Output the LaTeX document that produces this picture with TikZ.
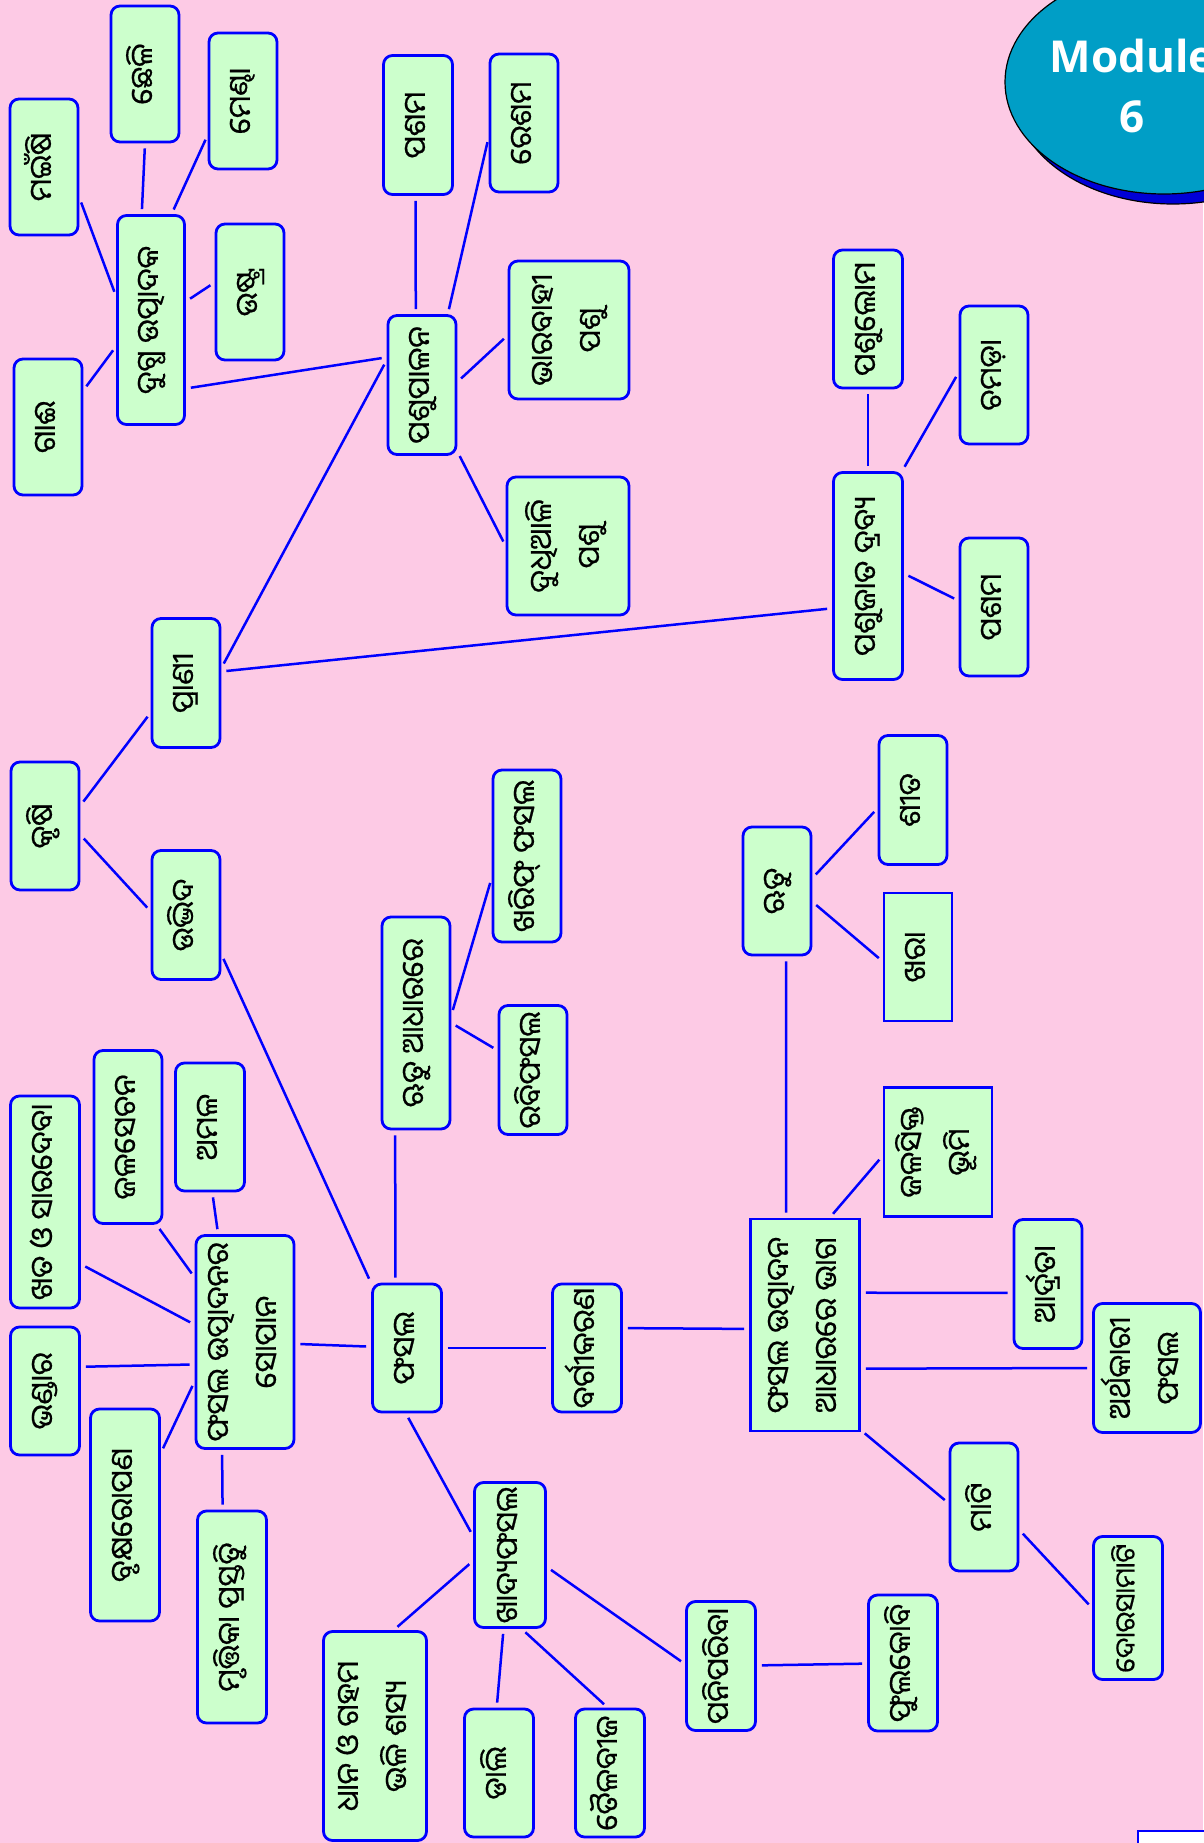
\documentclass[tikz,border=0pt]{standalone}
\usepackage{fontspec}
\usepackage{graphicx}
\newfontfamily\odia[Script=Oriya, FakeBold=0.6]{Noto Sans Oriya UI}
\newfontfamily\modfont{Open Sans}

\definecolor{bgpink}{RGB}{253,202,229}
\definecolor{boxgreen}{RGB}{204,255,204}
\definecolor{boxblue}{RGB}{0,0,255}
\definecolor{modteal}{RGB}{0,158,198}
\definecolor{modshadow}{RGB}{0,0,215}

\newcommand{\vlabel}[1]{\rotatebox{90}{\begin{tabular}{@{}c@{}}#1\end{tabular}}}

\begin{document}
\begin{tikzpicture}[x=1pt,y=-1pt]

\tikzstyle{topic} =
[rectangle,
rounded corners=9pt,
minimum width=68pt,
minimum height=129pt,
inner sep=0pt,
text centered,
draw=boxblue,
line width=2.8pt,
fill=boxgreen,
font=\odia\fontsize{30}{48}\selectfont]

\tikzstyle{sqtopic} =
[topic,
sharp corners]

\tikzstyle{link} =
[draw=boxblue,
line width=2.5pt,
shorten <=5pt,
shorten >=5pt]

\useasboundingbox (0,0) rectangle (1203,1843);
\fill[bgpink] (0,0) rectangle (1203,1843);

% module badge
\fill[modshadow, draw=black, line width=1.2pt] (1173,92) ellipse [x radius=159pt, y radius=112pt];
\fill[modteal, draw=black, line width=1.2pt] (1164,82) ellipse [x radius=159pt, y radius=112pt];
\node (module) [align=center, text=white, font=\modfont\bfseries\fontsize{44}{60}\selectfont] at (1132,86) {Module\\6};

% animals
\node (gai) [topic, minimum height=136pt] at (48,427) {\vlabel{ଗାଈ}};
\node (moinsi) [topic, minimum height=136pt] at (44,167) {\vlabel{ମଇଁଷି}};
\node (chheli) [topic, minimum height=136pt] at (145,74) {\vlabel{ଛେଳି}};
\node (mendha) [topic, minimum height=136pt] at (243,101) {\vlabel{ମେଣ୍ଢା}};
\node (dugdha) [topic, minimum width=67pt, minimum height=209pt] at (151,320) {\vlabel{ଦୁଗ୍ଧ ଉତ୍ପାଦକ}};
\node (ustra) [topic, minimum height=136pt] at (250,292) {\vlabel{ଉଷ୍ଟ୍ର}};
\node (pasham) [topic, minimum width=69pt, minimum height=139pt] at (418,125) {\vlabel{ପଶମ}};
\node (resham) [topic, minimum height=138pt] at (524,123) {\vlabel{ରେଶମ}};
\node (pashupalan) [topic, minimum height=139pt] at (422,385) {\vlabel{ପଶୁପାଳନ}};
\node (bharabahi) [topic, minimum width=120pt, minimum height=138pt] at (569,330) {\vlabel{ଭାରବାହୀ\\ପଶୁ}};
\node (dudhiali) [topic, minimum width=122pt, minimum height=138pt] at (568,546) {\vlabel{ଦୁଧିଆଳି\\ପଶୁ}};
\node (krushi) [topic, minimum height=128pt] at (45,826) {\vlabel{କୃଷି}};
\node (prani) [topic] at (186,683) {\vlabel{ପ୍ରାଣୀ}};
\node (udbhida) [topic] at (186,915) {\vlabel{ଉଦ୍ଭିଦ}};
\node (pashuloma) [topic, minimum width=69pt, minimum height=138pt] at (868,319) {\vlabel{ପଶୁଲୋମ}};
\node (chamada) [topic, minimum height=138pt] at (994,375) {\vlabel{ଚମଡ଼ା}};
\node (pashujata) [topic, minimum width=69pt, minimum height=207pt] at (868,576) {\vlabel{ପଶୁଜାତ ଦ୍ରବ୍ୟ}};
\node (pashamtwo) [topic, minimum height=138pt] at (994,607) {\vlabel{ପଶମ}};

% crops
\node (rituadhar) [topic, minimum height=212pt] at (416,1023) {\vlabel{ଋତୁ ଆଧାରରେ}};
\node (kharif) [topic, minimum height=172pt] at (527,856) {\vlabel{ଖରିଫ୍ ଫସଲ}};
\node (rabi) [topic] at (533,1070) {\vlabel{ରବିଫସଲ}};
\node (ritu) [topic, minimum height=128pt] at (777,891) {\vlabel{ଋତୁ}};
\node (shita) [topic] at (913,800) {\vlabel{ଶୀତ}};
\node (khara) [sqtopic, minimum height=128pt] at (918,957) {\vlabel{ଖରା}};
\node (jalasikta) [sqtopic, minimum width=108pt] at (938,1152) {\vlabel{ଜଳସିକ୍ତ\\ଭୂମି}};
\node (adhara) [sqtopic, minimum width=109pt, minimum height=212pt] at (805,1325) {\vlabel{ଫସଲ ଉତ୍ପାଦନ\\ଆଧାରରେ ଭାଗ}};
\node (ardrata) [topic] at (1048,1284) {\vlabel{ଆର୍ଦ୍ରତା}};
\node (arthakari) [topic, minimum width=107pt] at (1147,1368) {\vlabel{ଅର୍ଥକାରୀ\\ଫସଲ}};
\node (mati) [topic, minimum height=128pt] at (984,1507) {\vlabel{ମାଟି}};
\node (dorasa) [topic, minimum width=69pt, minimum height=143pt, font=\odia\fontsize{27}{44}\selectfont] at (1128,1608) {\vlabel{ଦୋରସାମାଟି}};
\node (fasal) [topic, minimum width=69pt, minimum height=128pt] at (407,1348) {\vlabel{ଫସଲ}};
\node (bargikarana) [topic, minimum width=69pt, minimum height=128pt] at (587,1348) {\vlabel{ବର୍ଗୀକରଣ}};
\node (sopana) [topic, minimum width=98pt, minimum height=213pt] at (245,1342) {\vlabel{ଫସଲ ଉତ୍ପାଦନର\\ସୋପାନ}};
\node (amala) [topic, minimum width=69pt, minimum height=128pt] at (210,1127) {\vlabel{ଅମଳ}};
\node (jalasechana) [topic, minimum height=173pt] at (128,1137) {\vlabel{ଜଳସେଚନ}};
\node (khata) [topic, minimum width=69pt, minimum height=212pt] at (45,1202) {\vlabel{ଖତ ଓ ସାରଦେବା}};
\node (bhandar) [topic, minimum width=69pt, minimum height=128pt] at (45,1391) {\vlabel{ଭଣ୍ଡାର}};
\node (brukhya) [topic, minimum width=69pt, minimum height=212pt] at (125,1515) {\vlabel{ବୃକ୍ଷରୋପଣ}};
\node (mrutika) [topic, minimum width=69pt, minimum height=212pt] at (232,1617) {\vlabel{ମୃତ୍ତିକା ପ୍ରସ୍ତୁତି}};
\node (khadya) [topic, minimum width=71pt, minimum height=145pt] at (510,1555) {\vlabel{ଖାଦ୍ୟଫସଲ}};
\node (dhana) [topic, minimum width=103pt, minimum height=209pt] at (375,1736) {\vlabel{ଧାନ ଓ ଗହମ\\ଭଳି ଶସ୍ୟ}};
\node (dali) [topic, minimum width=69pt, minimum height=128pt] at (499,1773) {\vlabel{ଡାଲି}};
\node (taila) [topic, minimum width=69pt, minimum height=128pt] at (610,1773) {\vlabel{ତୈଳବୀଜ}};
\node (panipariba) [topic, minimum width=69pt] at (721,1666) {\vlabel{ପନିପରିବା}};
\node (phulakobi) [topic, minimum width=69pt, minimum height=136pt] at (903,1663) {\vlabel{ଫୁଲକୋବି}};

% cut-off box at the corner
\draw[boxblue, line width=2.8pt, fill=white] (1138,1831) rectangle (1230,1880);

% links
\draw[link] (moinsi.-41) -- (dugdha.146);
\draw[link] (chheli.-90) -- (dugdha.95);
\draw[link] (mendha.-136) -- (dugdha.79);
\draw[link] (ustra.165) -- (dugdha.28);
\draw[link] (gai.46) -- (dugdha.-143);
\draw[link] (dugdha.-63) -- (pashupalan.142);
\draw[link] (pasham.-92) -- (pashupalan.95);
\draw[link] (pashupalan.70) -- (resham.-158);
\draw[link] (pashupalan.5) -- (bharabahi.185);
\draw[link] (pashupalan.-62) -- (dudhiali.180);
\draw[link] (prani.23) -- (pashupalan.145);
\draw[link] (prani.18) -- (pashujata.-138);
\draw[link] (pashujata.90) -- (pashuloma.-90);
\draw[link] (pashujata.72) -- (chamada.176);
\draw[link] (pashujata.4) -- (pashamtwo.170);
\draw[link] (krushi.30) -- (prani.-140);
\draw[link] (krushi.-14) -- (udbhida.174);
\draw[link] (udbhida.-48) -- (fasal.119);
\draw[link] (rituadhar.-101) -- (fasal.100);
\draw[link] (rituadhar.13) -- (kharif.-148);
\draw[link] (rituadhar.0) -- (rabi.151);
\draw[link] (fasal) -- (sopana);
\draw[link] (fasal) -- (bargikarana);
\draw[link] (bargikarana.29) -- (adhara.184);
\draw[link] (fasal.-91) -- (khadya.153);
\draw[link] (adhara.100) -- (ritu.-82);
\draw[link] (ritu.20) -- (shita.-167);
\draw[link] (ritu.-17) -- (khara.-173);
\draw[link] (adhara.77) -- (jalasikta.184);
\draw[link] (adhara.30) -- (ardrata.-166);
\draw[link] (adhara.-38) -- (arthakari.180);
\draw[link] (adhara.-62) -- (mati.174);
\draw[link] (mati.-33) -- (dorasa.180);
\draw[link] (sopana.104) -- (amala.-88);
\draw[link] (sopana.128) -- (jalasechana.-72);
\draw[link] (sopana.161) -- (khata.-60);
\draw[link] (sopana.-156) -- (bhandar.34);
\draw[link] (sopana.-142) -- (brukhya.60);
\draw[link] (sopana.-102) -- (mrutika.95);
\draw[link] (khadya.-171) -- (dhana.80);
\draw[link] (khadya.-95) -- (dali.92);
\draw[link] (khadya.-81) -- (taila.92);
\draw[link] (khadya.-18) -- (panipariba.177);
\draw[link] (panipariba) -- (phulakobi);

\end{tikzpicture}
\end{document}
